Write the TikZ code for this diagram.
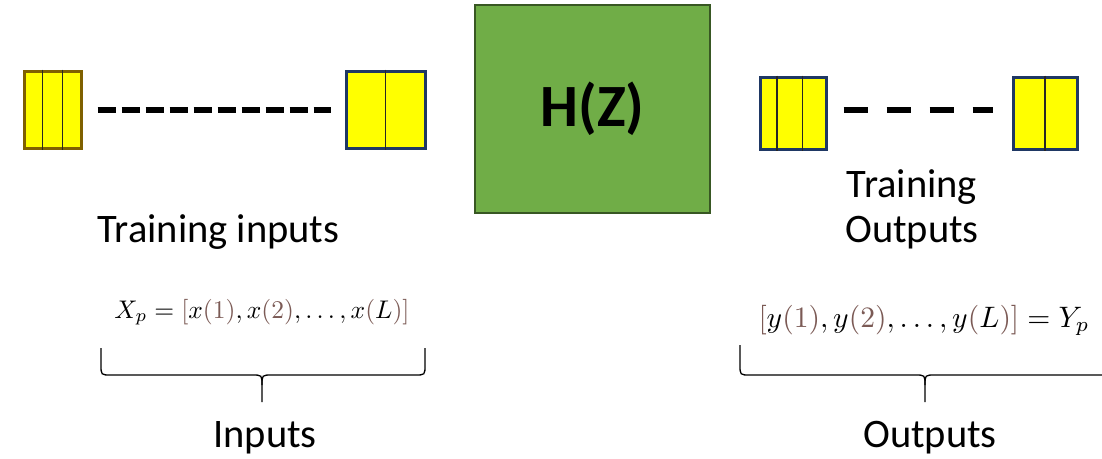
\documentclass[tikz,border=0pt]{standalone}
\usepackage{fontspec}
\setmainfont{Carlito}
\usetikzlibrary{calc}
\definecolor{yel}{RGB}{255,255,0}
\definecolor{brbord}{RGB}{127,96,0}
\definecolor{blbord}{RGB}{31,56,100}
\definecolor{grfill}{RGB}{112,173,71}
\definecolor{grbord}{RGB}{56,87,35}
\definecolor{brn}{RGB}{123,90,85}
\tikzset{
  cell/.style={draw=blbord, fill=yel, line width=3pt, rectangle, inner sep=0pt, minimum height=72pt},
  sep/.style={line width=1.6pt, black!85},
  dashline/.style={line width=6pt, black},
  lbl/.style={font=\fontsize{40.5}{48}\selectfont, inner sep=0pt, anchor=base},
  frm/.style={font=\normalsize, inner sep=0pt, anchor=base, scale=2.55, transform shape},
  bracestyle/.style={line width=1.3pt, black}
}
\begin{document}
\begin{tikzpicture}[x=1pt,y=-1pt]
\useasboundingbox (0,0) rectangle (1102,458);
% left boxes
\node[cell, draw=brbord, minimum width=57pt, minimum height=77pt] (b1) at (52.5,109.5) {};
\node[cell, minimum width=79pt, minimum height=77pt] (b2) at (385.5,109.5) {};
\draw[sep] ($(b1.north west)!1/3!(b1.north east)$) -- ($(b1.south west)!1/3!(b1.south east)$);
\draw[sep] ($(b1.north west)!2/3!(b1.north east)$) -- ($(b1.south west)!2/3!(b1.south east)$);
\draw[sep] (b2.north) -- (b2.south);
\draw[dashline, dash pattern=on 18pt off 6pt, shorten <=15pt, shorten >=14pt] (b1.east) -- (b2.west);
% H(Z)
\node[draw=grbord, fill=grfill, line width=2.5pt, minimum width=235pt, minimum height=208pt, inner sep=0pt,
      font=\fontsize{60}{70}\selectfont\bfseries] (h) at (592.5,109) {H(Z)};
% right boxes
\node[cell, minimum width=66pt] (b3) at (793,113) {};
\node[cell, minimum width=64pt] (b4) at (1045,113) {};
\draw[sep] ($(b3.north west)!0.27!(b3.north east)$) -- ($(b3.south west)!0.27!(b3.south east)$);
\draw[sep] ($(b3.north west)!0.64!(b3.north east)$) -- ($(b3.south west)!0.64!(b3.south east)$);
\draw[sep] (b4.north) -- (b4.south);
\draw[dashline, dash pattern=on 24pt off 19pt, shorten <=16pt, shorten >=19pt] ([yshift=3pt]b3.east) -- ([yshift=3pt]b4.west);
% labels
\node[lbl] (tin) at (218.5,242) {Training inputs};
\node[lbl] (tout1) at (912,197) {Training};
\node[lbl] (tout2) at (912,242) {Outputs};
\node[lbl] (inp) at (265,447) {Inputs};
\node[lbl] (outp) at (930,447) {Outputs};
% formulas
\node[frm] (fx) at (262,318) {$X_p = {\color{brn}[}x{\color{brn}(1)},x{\color{brn}(2)},\ldots,x{\color{brn}(}L{\color{brn})]}$};
\node[frm, scale=1.16] (fy) at (924,327) {${\color{brn}[}y{\color{brn}(1)},y{\color{brn}(2)},\ldots,y{\color{brn}(}L{\color{brn})]} = Y_p$};
% braces
\draw[bracestyle] (101,348) -- (101,365) .. controls (101,375) .. (111,375) -- (252,375) .. controls (262,375) .. (262,385) -- (262,402);
\draw[bracestyle] (425,348) -- (425,365) .. controls (425,375) .. (415,375) -- (272,375) .. controls (262,375) .. (262,385);
\draw[bracestyle] (740,345) -- (740,365) .. controls (740,375) .. (750,375) -- (915,375) .. controls (925,375) .. (925,385) -- (925,402);
\draw[bracestyle] (1110,345) -- (1110,365) .. controls (1110,375) .. (1100,375) -- (935,375) .. controls (925,375) .. (925,385);
\end{tikzpicture}
\end{document}
